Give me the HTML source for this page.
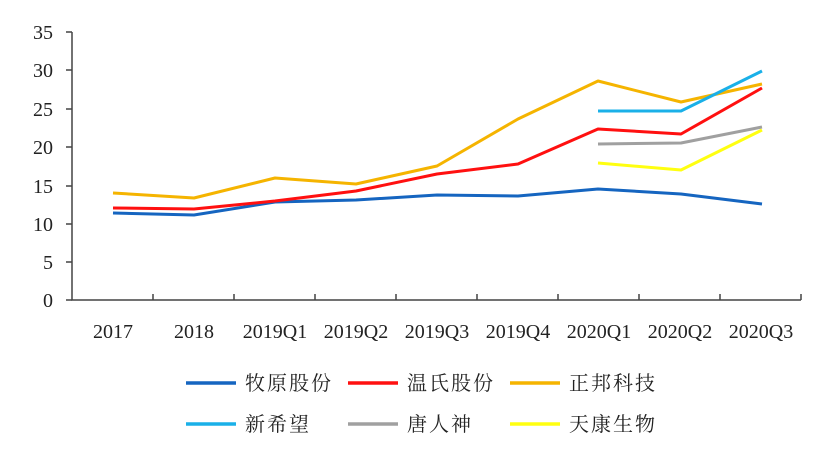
<!DOCTYPE html>
<html><head><meta charset="utf-8"><style>
body{margin:0;background:#fff;}
svg{display:block;font-family:"Liberation Serif","Noto Serif CJK SC",serif;}
</style></head><body>
<svg width="825" height="452" viewBox="0 0 825 452">
<g font-size="20" fill="#222" text-anchor="end">
<text x="53" y="39">35</text><text x="53" y="77">30</text><text x="53" y="116">25</text>
<text x="53" y="154">20</text><text x="53" y="193">15</text><text x="53" y="231">10</text>
<text x="53" y="269">5</text><text x="53" y="307">0</text>
</g>
<g stroke="#444" stroke-width="1.5" fill="none">
<path d="M72 32V300H801"/>
<path d="M66 32H72M66 70H72M66 109H72M66 147H72M66 186H72M66 224H72M66 262H72M66 300H72"/>
<path d="M153 300v-6M234 300v-6M315 300v-6M396 300v-6M477 300v-6M558 300v-6M639 300v-6M720 300v-6M801 300v-6"/>
</g>
<g font-size="20" fill="#222" text-anchor="middle">
<text x="113" y="338">2017</text><text x="194" y="338">2018</text><text x="275" y="338">2019Q1</text>
<text x="356" y="338">2019Q2</text><text x="437" y="338">2019Q3</text><text x="518" y="338">2019Q4</text>
<text x="599" y="338">2020Q1</text><text x="680" y="338">2020Q2</text><text x="761" y="338">2020Q3</text>
</g>
<g fill="none" stroke-width="3" stroke-linejoin="round">
<polyline stroke="#1565c0" points="113,213 194,215 275,202 356,200 437,195 518,196 598,189 681,194 762,204"/>
<polyline stroke="#ff1010" points="113,208 194,209 275,201 356,191 437,174 518,164 598,129 681,134 762,88"/>
<polyline stroke="#f5b400" points="113,193 194,198 275,178 356,184 437,166 518,119 598,81 681,102 762,84"/>
<polyline stroke="#1ab0e8" points="598,111 681,111 762,71"/>
<polyline stroke="#a0a0a0" points="598,144 681,143 762,127"/>
<polyline stroke="#ffff10" points="598,163 681,170 762,130"/>
</g>
<g stroke-width="3.5">
<line x1="186" y1="383" x2="236" y2="383" stroke="#1565c0"/>
<line x1="348" y1="383" x2="398" y2="383" stroke="#ff1010"/>
<line x1="510" y1="383" x2="560" y2="383" stroke="#f5b400"/>
<line x1="186" y1="424" x2="236" y2="424" stroke="#1ab0e8"/>
<line x1="348" y1="424" x2="398" y2="424" stroke="#a0a0a0"/>
<line x1="510" y1="424" x2="560" y2="424" stroke="#ffff10"/>
</g>
<g font-size="20" fill="#222" letter-spacing="2">
<text x="245" y="390">牧原股份</text><text x="407" y="390">温氏股份</text><text x="569" y="390">正邦科技</text>
<text x="245" y="431">新希望</text><text x="407" y="431">唐人神</text><text x="569" y="431">天康生物</text>
</g>
</svg>
</body></html>
